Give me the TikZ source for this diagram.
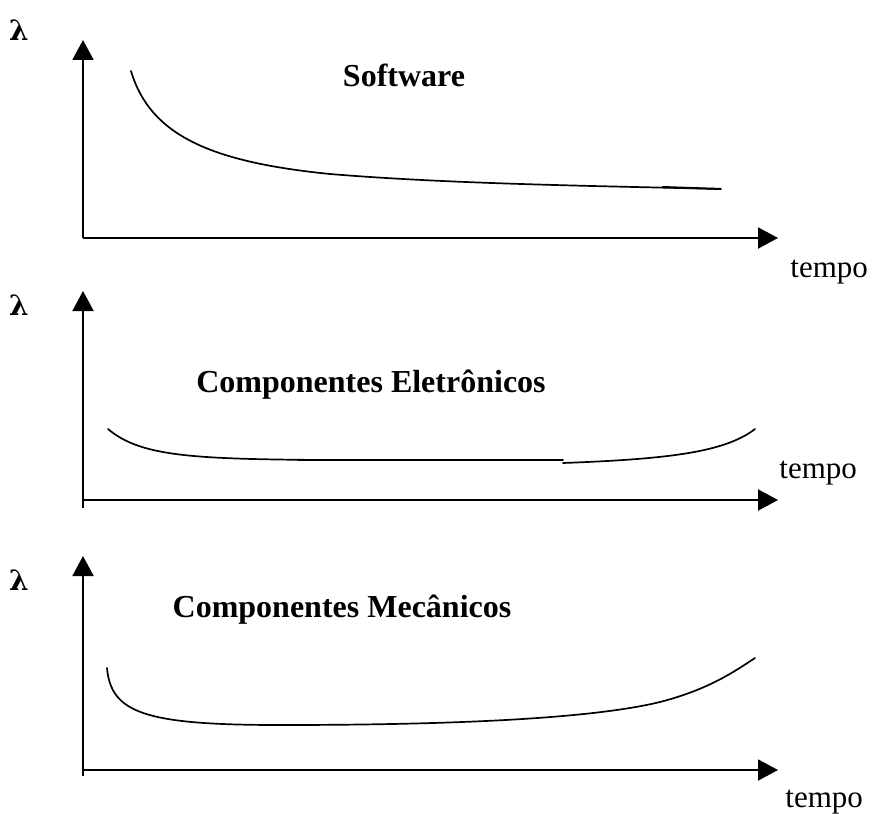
\documentclass[tikz,border=0pt]{standalone}
\usepackage{fontspec}
\setmainfont{Liberation Serif}
\newfontfamily\lambdafont{DejaVu Serif}
\usetikzlibrary{arrows.meta}
\begin{document}
\begin{tikzpicture}[x=0.5pt,y=-0.5pt,
  axis/.style={line width=1pt,-{Triangle[length=10pt,width=10.5pt]}},
  axisline/.style={line width=1pt},
  curve/.style={line width=0.85pt,line cap=round},
  title/.style={font=\bfseries\fontsize{16}{19}\selectfont,inner sep=0pt},
  lam/.style={font=\lambdafont\bfseries\fontsize{14}{16}\selectfont,inner sep=0pt},
  tlabel/.style={font=\fontsize{15.5}{18}\selectfont,inner sep=0pt,anchor=base west}]
\useasboundingbox (0,0) rectangle (881,813);

% ---- Software ----
\coordinate (o1) at (83,238);
\coordinate (y1) at (83,40);
\coordinate (x1) at (778,238);
\draw[axis] (o1) -- (y1);
\draw[axis] (o1) -- (x1);
\node[lam] (l1) at (19,30) {λ};
\node[title] (t1) at (404,75) {Software};
\node[tlabel] (e1) at (790,277) {tempo};
\draw[curve] (131,71) .. controls (150,135) and (210,162) .. (330,174)
  .. controls (450,184) and (600,186) .. (721,189);
\draw[line width=1pt] (662,187) -- (721,189);

% ---- Componentes Eletronicos ----
\coordinate (o2) at (83,500);
\coordinate (b2) at (83,508);
\coordinate (y2) at (83,291);
\coordinate (x2) at (778,500);
\draw[axisline] (b2) -- (o2);
\draw[axis] (o2) -- (y2);
\draw[axis] (o2) -- (x2);
\node[lam] (l2) at (19,305) {λ};
\node[title,anchor=base] (t2) at (371,392) {Componentes Eletrônicos};
\node[tlabel] (e2) at (779,478) {tempo};
\draw[curve] (108,429) .. controls (140,456) and (190,459) .. (322,460);
\draw[curve] (298,460) -- (563,460);
\draw[curve] (563,463) .. controls (670,459) and (725,452) .. (755,429);

% ---- Componentes Mecanicos ----
\coordinate (o3) at (83,770);
\coordinate (b3) at (83,776);
\coordinate (y3) at (83,556);
\coordinate (x3) at (778,770);
\draw[axisline] (b3) -- (o3);
\draw[axis] (o3) -- (y3);
\draw[axis] (o3) -- (x3);
\node[lam] (l3) at (19,580) {λ};
\node[title,anchor=base] (t3) at (342,617) {Componentes Mecânicos};
\node[tlabel] (e3) at (785,807) {tempo};
\draw[curve] (107,668) .. controls (111,713) and (145,725) .. (280,725)
  .. controls (450,725) and (590,719) .. (660,702)
  .. controls (710,689) and (735,671) .. (755,658);
\end{tikzpicture}
\end{document}
